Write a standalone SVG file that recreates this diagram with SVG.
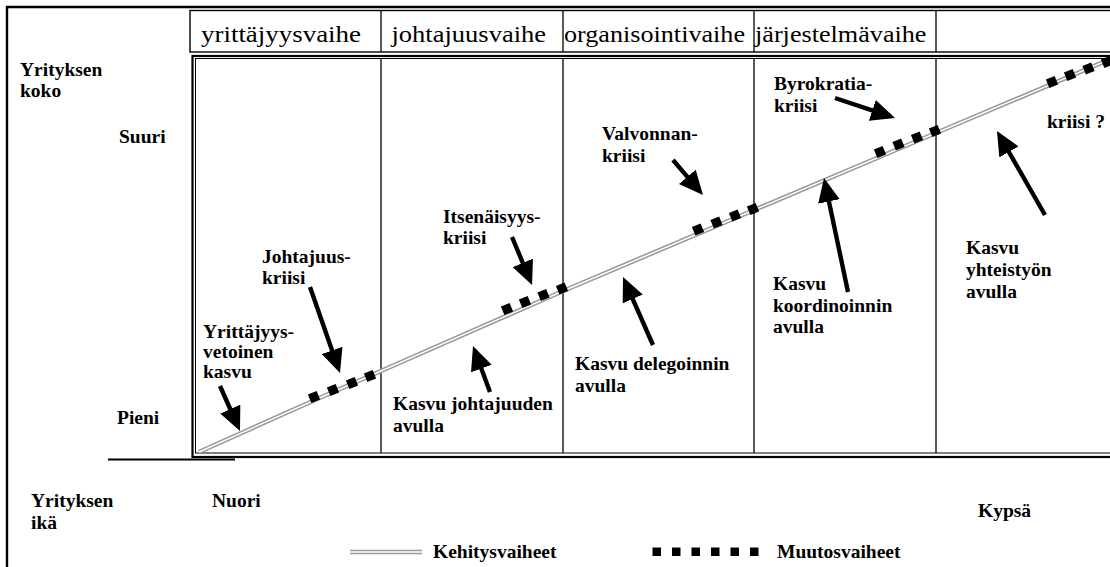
<svg xmlns="http://www.w3.org/2000/svg" xmlns:xlink="http://www.w3.org/1999/xlink" width="1110" height="567" viewBox="0 0 1110 567">
  <style>
    .lbl { font-family: "Liberation Serif", "Times New Roman", serif; font-weight: bold; font-size: 19.5px; fill: #000; }
    .hdr { font-family: "Liberation Serif", "Times New Roman", serif; font-size: 24px; fill: #000; }
    .frame { fill: none; stroke: #000; }
    .sep { stroke: #000; stroke-width: 1.3; }
    .arrow { stroke: #000; stroke-width: 4.4; fill: none; marker-end: url(#head); }
    .track { fill: none; stroke: #9a9a9a; stroke-width: 4.6; stroke-linejoin: round; }
    .track-gap { fill: none; stroke: #fff; stroke-width: 1.4; stroke-linejoin: round; }
  </style>
  <defs>
    <marker id="head" markerUnits="userSpaceOnUse" markerWidth="24" markerHeight="22" viewBox="0 0 24 22" refX="7" refY="11" orient="auto">
      <path d="M0,0 L24,11 L0,22 z" fill="#000"/>
    </marker>
    <rect id="sq" x="-4.7" y="-4.7" width="9.4" height="9.4" fill="#000"/>
  </defs>

  <rect width="1110" height="567" fill="#fff"/>

  <!-- outer frame -->
  <g id="outer-frame">
    <line x1="6" y1="7" x2="1110" y2="7" stroke="#000" stroke-width="2.4"/>
    <line x1="7" y1="6" x2="7" y2="567" stroke="#000" stroke-width="2.4"/>
  </g>

  <!-- phase header row -->
  <g id="phase-header">
    <rect class="frame" x="190" y="10.5" width="930" height="41.5" stroke-width="1.4"/>
    <line class="sep" x1="381" y1="10.5" x2="381" y2="52"/>
    <line class="sep" x1="563" y1="10.5" x2="563" y2="52"/>
    <line class="sep" x1="754" y1="10.5" x2="754" y2="52"/>
    <line class="sep" x1="936" y1="10.5" x2="936" y2="52"/>
    <text class="hdr" x="201" y="42" textLength="160" lengthAdjust="spacingAndGlyphs">yrittäjyysvaihe</text>
    <text class="hdr" x="391.5" y="42" textLength="154.5" lengthAdjust="spacingAndGlyphs">johtajuusvaihe</text>
    <text class="hdr" x="564" y="42" textLength="181" lengthAdjust="spacingAndGlyphs">organisointivaihe</text>
    <text class="hdr" x="755" y="42" textLength="171.5" lengthAdjust="spacingAndGlyphs">järjestelmävaihe</text>
  </g>

  <!-- chart area with double border -->
  <g id="chart-area">
    <rect class="frame" x="192.5" y="56" width="940" height="401" stroke-width="2.2"/>
    <rect class="frame" x="195.5" y="58.5" width="940" height="394.5" stroke-width="1"/>
    <line class="sep" x1="381" y1="58.5" x2="381" y2="453"/>
    <line class="sep" x1="563" y1="58.5" x2="563" y2="453"/>
    <line class="sep" x1="754" y1="58.5" x2="754" y2="453"/>
    <line class="sep" x1="936" y1="58.5" x2="936" y2="453"/>
    <line x1="108" y1="459.5" x2="235" y2="459.5" stroke="#000" stroke-width="2"/>
  </g>

  <!-- axis labels -->
  <g id="axis-size">
    <text class="lbl" x="20" y="76">Yrityksen</text>
    <text class="lbl" x="20" y="97">koko</text>
  </g>
  <g id="axis-large"><text class="lbl" x="119" y="143">Suuri</text></g>
  <g id="axis-small"><text class="lbl" x="117" y="424">Pieni</text></g>
  <g id="axis-age">
    <text class="lbl" x="31" y="507">Yrityksen</text>
    <text class="lbl" x="31" y="529">ikä</text>
  </g>
  <g id="axis-young"><text class="lbl" x="212" y="507">Nuori</text></g>
  <g id="axis-mature"><text class="lbl" x="978" y="517">Kypsä</text></g>

  <!-- development path -->
  <g id="development-path">
    <polyline class="track" points="199,452 315,400 563,291 753,210.5 936,133 1112,58.5"/>
    <polyline class="track-gap" points="199,452 315,400 563,291 753,210.5 936,133 1112,58.5"/>
  </g>

  <!-- crisis segments -->
  <g id="crisis-marks">
    <use xlink:href="#sq" transform="translate(314,397) rotate(-22)"/>
    <use xlink:href="#sq" transform="translate(333,390) rotate(-22)"/>
    <use xlink:href="#sq" transform="translate(352,383) rotate(-22)"/>
    <use xlink:href="#sq" transform="translate(370,376) rotate(-22)"/>

    <use xlink:href="#sq" transform="translate(507,309) rotate(-22)"/>
    <use xlink:href="#sq" transform="translate(525,302) rotate(-22)"/>
    <use xlink:href="#sq" transform="translate(543.5,295) rotate(-22)"/>
    <use xlink:href="#sq" transform="translate(562,288.5) rotate(-22)"/>

    <use xlink:href="#sq" transform="translate(698,229.5) rotate(-22)"/>
    <use xlink:href="#sq" transform="translate(716.5,222.5) rotate(-22)"/>
    <use xlink:href="#sq" transform="translate(735,215.5) rotate(-22)"/>
    <use xlink:href="#sq" transform="translate(753,209) rotate(-22)"/>

    <use xlink:href="#sq" transform="translate(880,152) rotate(-22)"/>
    <use xlink:href="#sq" transform="translate(898.5,144.5) rotate(-22)"/>
    <use xlink:href="#sq" transform="translate(917,137.5) rotate(-22)"/>
    <use xlink:href="#sq" transform="translate(935,131) rotate(-22)"/>

    <use xlink:href="#sq" transform="translate(1052,82) rotate(-22)"/>
    <use xlink:href="#sq" transform="translate(1070,75) rotate(-22)"/>
    <use xlink:href="#sq" transform="translate(1088.5,68.5) rotate(-22)"/>
    <use xlink:href="#sq" transform="translate(1107,62) rotate(-22)"/>
  </g>

  <!-- callout labels -->
  <g id="entrepreneurial-growth">
    <text class="lbl" x="203" y="338">Yrittäjyys-</text>
    <text class="lbl" x="203" y="358">vetoinen</text>
    <text class="lbl" x="203" y="378">kasvu</text>
  </g>
  <g id="leadership-crisis">
    <text class="lbl" x="262" y="263">Johtajuus-</text>
    <text class="lbl" x="262" y="283.5">kriisi</text>
  </g>
  <g id="autonomy-crisis">
    <text class="lbl" x="443" y="223">Itsenäisyys-</text>
    <text class="lbl" x="443" y="244">kriisi</text>
  </g>
  <g id="control-crisis">
    <text class="lbl" x="602" y="140">Valvonnan-</text>
    <text class="lbl" x="602" y="161.5">kriisi</text>
  </g>
  <g id="red-tape-crisis">
    <text class="lbl" x="774" y="90">Byrokratia-</text>
    <text class="lbl" x="774" y="111.5">kriisi</text>
  </g>
  <g id="unknown-crisis">
    <text class="lbl" x="1047" y="128">kriisi ?</text>
  </g>
  <g id="growth-direction">
    <text class="lbl" x="393" y="410">Kasvu johtajuuden</text>
    <text class="lbl" x="393" y="432">avulla</text>
  </g>
  <g id="growth-delegation">
    <text class="lbl" x="575" y="370">Kasvu delegoinnin</text>
    <text class="lbl" x="575" y="392">avulla</text>
  </g>
  <g id="growth-coordination">
    <text class="lbl" x="773" y="290">Kasvu</text>
    <text class="lbl" x="773" y="311.5">koordinoinnin</text>
    <text class="lbl" x="773" y="333">avulla</text>
  </g>
  <g id="growth-collaboration">
    <text class="lbl" x="966" y="254">Kasvu</text>
    <text class="lbl" x="966" y="276">yhteistyön</text>
    <text class="lbl" x="966" y="298">avulla</text>
  </g>

  <!-- pointer arrows -->
  <g id="connectors">
    <line class="arrow" x1="220" y1="386" x2="233.1" y2="415.5"/>
    <line class="arrow" x1="310" y1="287" x2="334.4" y2="357"/>
    <line class="arrow" x1="512" y1="237" x2="525.5" y2="269.3"/>
    <line class="arrow" x1="673" y1="160" x2="691.9" y2="182.1"/>
    <line class="arrow" x1="835" y1="98" x2="878.9" y2="112.6"/>
    <line class="arrow" x1="490" y1="392" x2="478.9" y2="362"/>
    <line class="arrow" x1="653" y1="345" x2="629.9" y2="292.6"/>
    <line class="arrow" x1="848" y1="292" x2="827.5" y2="194.6"/>
    <line class="arrow" x1="1045" y1="215" x2="1005.4" y2="145.8"/>
  </g>

  <!-- legend -->
  <g id="legend-development">
    <line class="track" x1="350" y1="552" x2="422" y2="552" stroke-width="4"/>
    <line class="track-gap" x1="350" y1="552" x2="422" y2="552"/>
    <text class="lbl" x="433" y="558">Kehitysvaiheet</text>
  </g>
  <g id="legend-change">
    <rect x="652.5" y="547.5" width="8.5" height="8.5" fill="#000"/>
    <rect x="672" y="547.5" width="8.5" height="8.5" fill="#000"/>
    <rect x="691.5" y="547.5" width="8.5" height="8.5" fill="#000"/>
    <rect x="711" y="547.5" width="8.5" height="8.5" fill="#000"/>
    <rect x="730.5" y="547.5" width="8.5" height="8.5" fill="#000"/>
    <rect x="750" y="547.5" width="8.5" height="8.5" fill="#000"/>
    <text class="lbl" x="777" y="558">Muutosvaiheet</text>
  </g>
</svg>
